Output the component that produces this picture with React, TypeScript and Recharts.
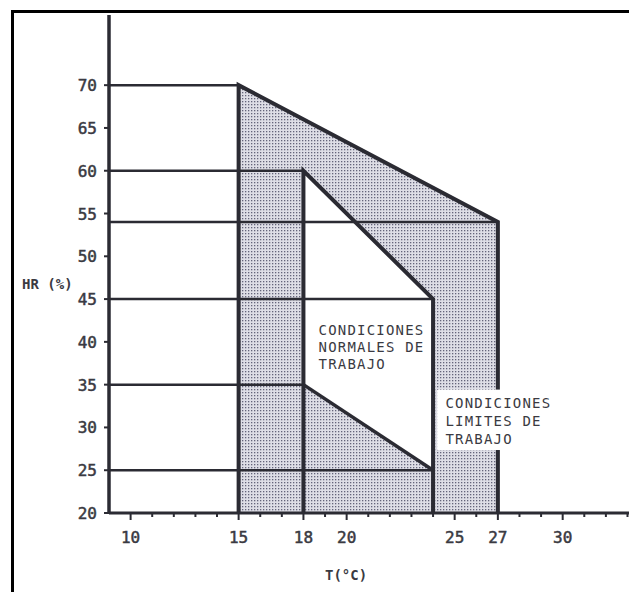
import { ComposedChart, Area, Line, XAxis, YAxis, ReferenceArea } from 'recharts';

const T_MIN = 9;
const T_MAX = 33.44;
const HR_MIN = 20;
const HR_MAX = 78.2;

const hrTicks = [20, 25, 30, 35, 40, 45, 50, 55, 60, 65, 70];
const tTicks = [10, 11, 12, 13, 14, 15, 16, 17, 18, 19, 20, 21, 22, 23, 24, 25, 26, 27, 28, 29, 30, 31, 32, 33];
const tLabels = [10, 15, 18, 20, 25, 27, 30];

// condiciones limites (T, HR) outline
const limitT = [15, 15, 27, 27];
const limitHR = [20, 70, 54, 20];
// condiciones normales outline
const normalT = [18, 18, 24, 24];
const normalHR = [20, 60, 45, 20];
const normalLowT = [18, 24];
const normalLowHR = [35, 25];

// horizontal guides from the HR axis
const guideHR = [70, 60, 54, 45, 35, 25];
const guideEndT = [15, 18, 27, 24, 18, 24];

const INK = '#2b2b33';
const TEXT = '#3a3a42';
const FONT = "'DejaVu Sans Mono', monospace";

const pts = (ts: number[], hrs: number[]) => ts.map((t, i) => ({ t, hr: hrs[i] }));

const limitArea = [1, 2].map((i) => ({ t: limitT[i], range: [HR_MIN, limitHR[i]] }));
const normalArea = normalLowT.map((t, i) => ({ t, range: [normalLowHR[i], normalHR[i + 1]] }));

const XTick = (props: any) => {
  const { x, y, payload } = props;
  const v = payload.value;
  const lab = tLabels.includes(v);
  return (
    <g>
      <line x1={x} x2={x} y1={y} y2={y + (lab ? 7 : 4)} stroke={INK} strokeWidth={2} />
      {lab && (
        <text x={x} y={y + 30} textAnchor="middle" fontFamily={FONT} fontSize={16} stroke={TEXT} strokeWidth={0.5} fill={TEXT}>
          {v}
        </text>
      )}
    </g>
  );
};

const YTick = (props: any) => {
  const { x, y, payload } = props;
  return (
    <g>
      <line x1={x - 5} x2={x} y1={y} y2={y} stroke={INK} strokeWidth={2} />
      <text x={x - 12} y={y + 6} textAnchor="end" fontFamily={FONT} fontSize={16} stroke={TEXT} strokeWidth={0.5} fill={TEXT}>
        {payload.value}
      </text>
    </g>
  );
};

const block = (lines: string[], dx: number, dy: number, gap: number, boxed: boolean) => (props: any) => {
  const vb = props.viewBox;
  return (
    <g>
      {boxed && <rect x={vb.x} y={vb.y} width={vb.width} height={vb.height} fill="#fff" />}
      <text x={vb.x + dx} y={vb.y + dy} fontFamily={FONT} fontSize={14} letterSpacing={1.2} fill={TEXT}>
        {lines.map((l, i) => (
          <tspan key={i} x={vb.x + dx} dy={i === 0 ? 0 : gap}>
            {l}
          </tspan>
        ))}
      </text>
    </g>
  );
};

export default function App() {
  return (
    <div style={{ position: 'relative', width: 629, height: 584 }}>
      <div
        style={{
          position: 'absolute',
          left: 3,
          top: 2,
          right: 0,
          bottom: 0,
          borderLeft: '3px solid #000',
          borderTop: '3px solid #000',
        }}
      />
      <div style={{ position: 'absolute', left: 0, top: 0 }}>
        <ComposedChart width={629} height={584} margin={{ top: 7, right: 0, bottom: 0, left: 0 }}>
          <defs>
            <pattern id="dots" width="3" height="3" patternUnits="userSpaceOnUse">
              <rect width="3" height="3" fill="#dedee6" />
              <rect width="1.3" height="1.3" fill="#64647a" />
            </pattern>
          </defs>
          <XAxis
            type="number"
            dataKey="t"
            domain={[T_MIN, T_MAX]}
            allowDataOverflow
            ticks={tTicks}
            interval={0}
            height={79}
            tickSize={0}
            tickMargin={0}
            tickLine={false}
            tick={<XTick />}
            axisLine={{ stroke: INK, strokeWidth: 3 }}
            label={{
              value: 'T(°C)',
              content: (p: any) => (
                <text x={p.viewBox.x + 216} y={p.viewBox.y + 67} fontFamily={FONT} fontSize={14} fontWeight="bold" fill={TEXT}>
                  T(°C)
                </text>
              ),
            }}
          />
          <YAxis
            type="number"
            domain={[HR_MIN, HR_MAX]}
            allowDataOverflow
            ticks={hrTicks}
            interval={0}
            width={101}
            tickSize={0}
            tickMargin={0}
            tickLine={false}
            tick={<YTick />}
            axisLine={{ stroke: INK, strokeWidth: 3.5 }}
            label={{
              value: 'HR (%)',
              content: (p: any) => (
                <text x={p.viewBox.x + 14} y={p.viewBox.y + 274} fontFamily={FONT} fontSize={14} fontWeight="bold" fill={TEXT}>
                  HR (%)
                </text>
              ),
            }}
          />
          <Area data={limitArea} dataKey="range" type="linear" fill="url(#dots)" fillOpacity={1} stroke="none" isAnimationActive={false} />
          <Area data={normalArea} dataKey="range" type="linear" fill="#fff" fillOpacity={1} stroke="none" isAnimationActive={false} />
          {guideHR.map((hr, i) => (
            <Line
              key={'g' + i}
              data={pts([T_MIN, guideEndT[i]], [hr, hr])}
              dataKey="hr"
              type="linear"
              stroke={INK}
              strokeWidth={2.5}
              dot={false}
              activeDot={false}
              isAnimationActive={false}
            />
          ))}
          <Line data={pts(limitT, limitHR)} dataKey="hr" type="linear" stroke={INK} strokeWidth={4} dot={false} activeDot={false} isAnimationActive={false} />
          <Line data={pts(normalT, normalHR)} dataKey="hr" type="linear" stroke={INK} strokeWidth={4} dot={false} activeDot={false} isAnimationActive={false} />
          <Line data={pts(normalLowT, normalLowHR)} dataKey="hr" type="linear" stroke={INK} strokeWidth={3.5} dot={false} activeDot={false} isAnimationActive={false} />
          <ReferenceArea
            x1={18.7}
            x2={23.5}
            y1={36.5}
            y2={43}
            fill="none"
            stroke="none"
            label={{ content: block(['CONDICIONES', 'NORMALES DE', 'TRABAJO'], 0, 19, 17, false) }}
          />
          <ReferenceArea
            x1={24.2}
            x2={29.45}
            y1={27.36}
            y2={34.4}
            fill="#fff"
            fillOpacity={1}
            stroke="none"
            zIndex={2000}
            label={{ content: block(['CONDICIONES', 'LIMITES DE', 'TRABAJO'], 8, 18, 18, true) }}
          />
        </ComposedChart>
      </div>
    </div>
  );
}
